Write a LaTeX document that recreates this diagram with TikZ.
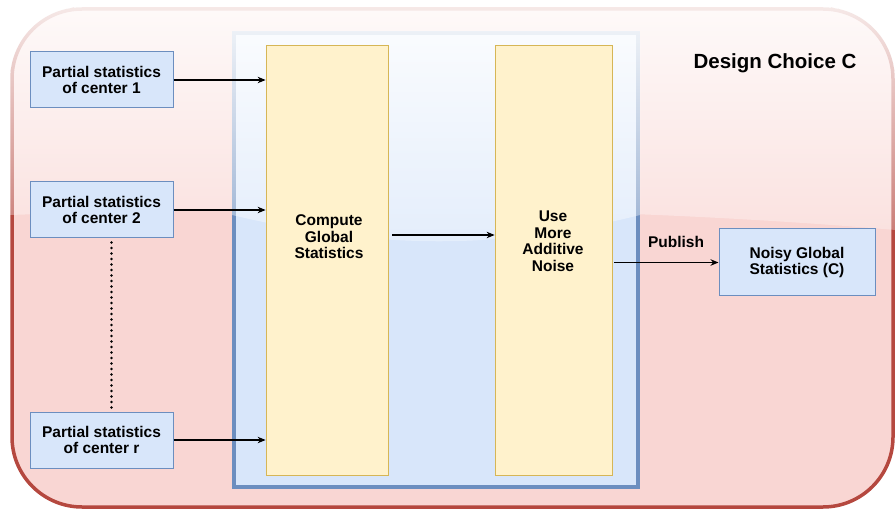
\documentclass[tikz,border=0pt]{standalone}
\usepackage{fontspec}
\setmainfont{Liberation Sans}
\usetikzlibrary{fadings,arrows.meta}
\definecolor{redfill}{HTML}{F9D6D3}
\definecolor{redline}{HTML}{B5483F}
\definecolor{bluefill}{HTML}{D8E6FA}
\definecolor{blueline}{HTML}{6C8EBF}
\definecolor{yelfill}{HTML}{FFF2CC}
\definecolor{yelline}{HTML}{D6B656}
\tikzfading[name=gloss, top color=transparent!12, bottom color=transparent!70]
\tikzset{
  txt/.style={font=\fontsize{15.5}{16.5}\selectfont\bfseries, align=center, inner sep=0pt},
  srcbox/.style={draw=blueline, fill=bluefill, line width=1pt, minimum width=143pt, minimum height=56pt, inner sep=0pt},
  yelbox/.style={draw=yelline, fill=yelfill, line width=0.8pt, minimum height=430pt, inner sep=0pt},
  arr/.style={-{Stealth[length=8pt,width=6.5pt]}, line width=1.1pt}
}
\begin{document}
\begin{tikzpicture}[x=1pt,y=-1pt]
\useasboundingbox (0,0) rectangle (896,510);
% outer container
\path[fill=redfill, draw=redline, line width=3.5pt, rounded corners=70pt] (12,9) rectangle (893,507);
\begin{scope}
  \clip[rounded corners=70pt] (10,7) rectangle (895,509);
  \fill[white, path fading=gloss] (10,7) -- (896,7) -- (896,230) .. controls (600,205) and (300,205) .. (10,215) -- cycle;
\end{scope}
% inner container
\path[fill=bluefill, draw=blueline, line width=3.5pt] (234,33) rectangle (638,487);
\begin{scope}
  \clip (232,31) rectangle (640,489);
  \fill[white, path fading=gloss] (232,31) -- (640,31) -- (640,215) .. controls (500,250) and (380,250) .. (232,215) -- cycle;
\end{scope}
% yellow boxes
\node[yelbox, minimum width=122pt] (comp) at (327,260) {};
\node[yelbox, minimum width=117pt] (use) at (553.5,260) {};
\node[txt] (compt) at (329,237) {Compute\\Global\\Statistics};
\node[txt] (uset) at (553,241) {Use\\More\\Additive\\Noise};
% source boxes
\node[srcbox] (c1) at (101.5,80) {};
\node[txt] (c1t) at (c1) {Partial statistics\\of center 1};
\node[srcbox] (c2) at (101.5,210) {};
\node[txt] (c2t) at (c2) {Partial statistics\\of center 2};
\node[srcbox] (cr) at (101.5,440) {};
\node[txt] (crt) at (cr) {Partial statistics\\of center r};
% output box
\node[srcbox, minimum width=156pt, minimum height=67pt] (noisy) at (797,262.5) {};
\node[txt] (noisyt) at (noisy) {Noisy Global\\Statistics (C)};
% title
\node[font=\fontsize{20.5}{22}\selectfont\bfseries, inner sep=0pt] (title) at (775,63) {Design Choice C};
% connectors
\draw[arr] (c1.east) -- (comp.west |- c1.east);
\draw[arr] (c2.east) -- (comp.west |- c2.east);
\draw[arr] (cr.east) -- (comp.west |- cr.east);
\draw[arr] (comp.east |- compt) ++(4,-2) coordinate (ca) -- (use.west |- ca);
\draw[arr] (use.east |- noisy.west) ++(2,0) coordinate (ua) -- (noisy.west);
\node[txt] (pub) at (676,242) {Publish};
\draw[line width=2.6pt, line cap=round, dash pattern=on 0pt off 5.5pt] (c2.south) ++(10,4) coordinate (d1) -- (cr.north -| d1);
\end{tikzpicture}
\end{document}
